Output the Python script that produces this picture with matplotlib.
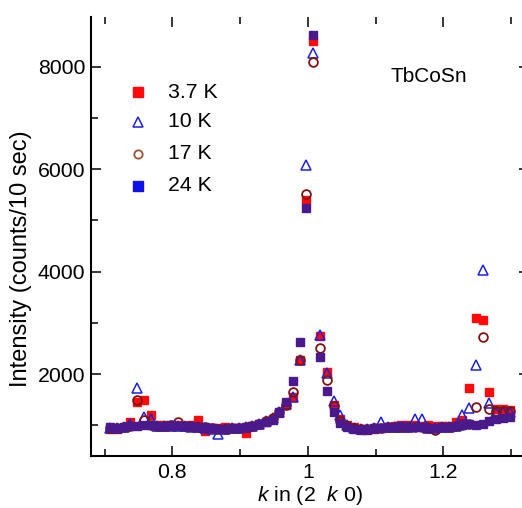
import matplotlib
matplotlib.use("Agg")
import matplotlib.pyplot as plt
from matplotlib.ticker import MultipleLocator

plt.rcParams['font.family'] = ['Liberation Sans', 'DejaVu Sans']
plt.rcParams['mathtext.fontset'] = 'custom'
plt.rcParams['mathtext.it'] = 'Liberation Sans:italic'
plt.rcParams['mathtext.rm'] = 'Liberation Sans'

# k grid (r.l.u.), shared by all four temperatures
k = [0.708, 0.718, 0.728, 0.738, 0.748, 0.758, 0.768, 0.778, 0.788, 0.798,
     0.808, 0.818, 0.828, 0.838, 0.848, 0.858, 0.868, 0.878, 0.888, 0.898,
     0.908, 0.918, 0.928, 0.938, 0.948, 0.958, 0.968, 0.978, 0.988, 0.998,
     1.008, 1.018, 1.028, 1.038, 1.048, 1.058, 1.068, 1.078, 1.088, 1.098,
     1.108, 1.118, 1.128, 1.138, 1.148, 1.158, 1.168, 1.178, 1.188, 1.198,
     1.208, 1.218, 1.228, 1.238, 1.248, 1.258, 1.268, 1.278, 1.288, 1.298]

i_3p7K = [930, 920, 960, 1062, 1453, 1500, 1192, 1000, 1010, 990,
          1000, 990, 1000, 1095, 885, 950, 940, 960, 950, 940,
          854, 980, 1020, 1060, 1130, 1230, 1390, 1550, 2270, 5396,
          8510, 2750, 2040, 1400, 1120, 1000, 960, 920, 910, 930,
          950, 960, 990, 1000, 1000, 1000, 990, 1000, 980, 980,
          990, 1060, 1100, 1720, 3089, 3063, 1640, 1320, 1310, 1300]

i_10K = [950, 950, 960, 1030, 1734, 1160, 1127, 990, 990, 990,
         990, 980, 970, 960, 950, 930, 835, 930, 940, 950,
         960, 990, 1030, 1080, 1150, 1260, 1420, 1550, 2270, 6080,
         8264, 2757, 2020, 1480, 1192, 1000, 950, 930, 930, 940,
         1062, 960, 970, 970, 970, 1127, 1127, 950, 950, 960,
         960, 980, 1192, 1343, 2170, 4030, 1427, 1257, 1257, 1257]

i_17K = [950, 950, 960, 990, 1500, 1100, 1000, 990, 990, 1000,
         1062, 980, 980, 970, 960, 940, 930, 930, 940, 950,
         960, 990, 1030, 1080, 1150, 1260, 1400, 1650, 2270, 5513,
         8100, 2508, 1890, 1370, 1080, 980, 950, 930, 930, 940,
         950, 960, 970, 970, 970, 960, 960, 950, 913, 960,
         960, 980, 1000, 1020, 1355, 2720, 1323, 1280, 1280, 1280]

i_24K = [960, 950, 970, 980, 990, 1000, 1000, 990, 990, 1000,
         990, 980, 980, 970, 960, 940, 930, 930, 940, 950,
         960, 990, 1030, 1062, 1095, 1257, 1453, 1857, 2626, 5234,
         8622, 2333, 1668, 1257, 1036, 964, 932, 913, 930, 940,
         950, 960, 970, 977, 970, 960, 960, 950, 938, 960,
         960, 980, 1000, 1016, 1010, 1016, 1080, 1130, 1140, 1160]

labels = ['3.7 K', '10 K', '17 K', '24 K']

RED = '#ff0a0a'
BLUE = '#1c22d8'
BROWN = '#7a1512'
PURPLE = '#4a1a8c'

fig = plt.figure(figsize=(5.22, 5.08), dpi=100)
ax = fig.add_axes([0.1743, 0.1024, 0.84, 0.8642])

ax.plot(k, i_3p7K, ls='none', marker='s', ms=6.0, mfc=RED, mec=RED, zorder=2)
ax.plot(k, i_10K, ls='none', marker='^', ms=7.5, mfc='none', mec=BLUE, mew=1.1, zorder=3)
ax.plot(k, i_17K, ls='none', marker='o', ms=6.3, mfc='none', mec=BROWN, mew=1.3, zorder=4)
ax.plot(k, i_24K, ls='none', marker='s', ms=5.8, mfc=PURPLE, mec=PURPLE, zorder=5)

ax.set_xlim(0.68, 1.327)
ax.set_ylim(400, 8975)
ax.set_xticks([0.8, 1.0, 1.2])
ax.set_xticklabels(['0.8', '1', '1.2'])
ax.xaxis.set_minor_locator(MultipleLocator(0.1))
ax.yaxis.set_major_locator(MultipleLocator(2000))
ax.yaxis.set_minor_locator(MultipleLocator(1000))
ax.tick_params(which='both', direction='in', top=True, right=True, labelsize=15.3, width=1.1)
ax.tick_params(which='major', length=7.5)
ax.tick_params(which='minor', length=5)
ax.tick_params(axis='y', pad=4.3)
ax.tick_params(axis='x', pad=5)
for s in ax.spines.values():
    s.set_linewidth(1.5)
ax.spines['top'].set_visible(False)

ax.set_ylabel('Intensity (counts/10 sec)', fontsize=17)
ax.yaxis.set_label_coords(-0.134, 0.45)
ax.set_xlabel(r'$k$ in (2  $k$ 0)', fontsize=15.3)
ax.xaxis.set_label_coords(0.5, -0.064)

ax.text(0.682, 0.852, 'TbCoSn', transform=ax.transAxes, fontsize=15, va='baseline')

# hand-placed legend: legend marker for 24 K is blue while data are purple
legend_styles = [
    dict(marker='s', ms=6.5, mfc=RED, mec=RED),
    dict(marker='^', ms=7, mfc='none', mec=BLUE, mew=1.1),
    dict(marker='o', ms=6, mfc='none', mec='#a0522d', mew=1.3),
    dict(marker='s', ms=6.5, mfc='#1010e8', mec='#1010e8'),
]
row_y = [0.829, 0.761, 0.688, 0.615]
for lab, st, yy in zip(labels, legend_styles, row_y):
    ax.plot([0.107], [yy], ls='none', transform=ax.transAxes, clip_on=False, **st)
    ax.text(0.176, yy, lab, transform=ax.transAxes, fontsize=15.3, va='center')

fig.savefig('out.png', dpi=100)
